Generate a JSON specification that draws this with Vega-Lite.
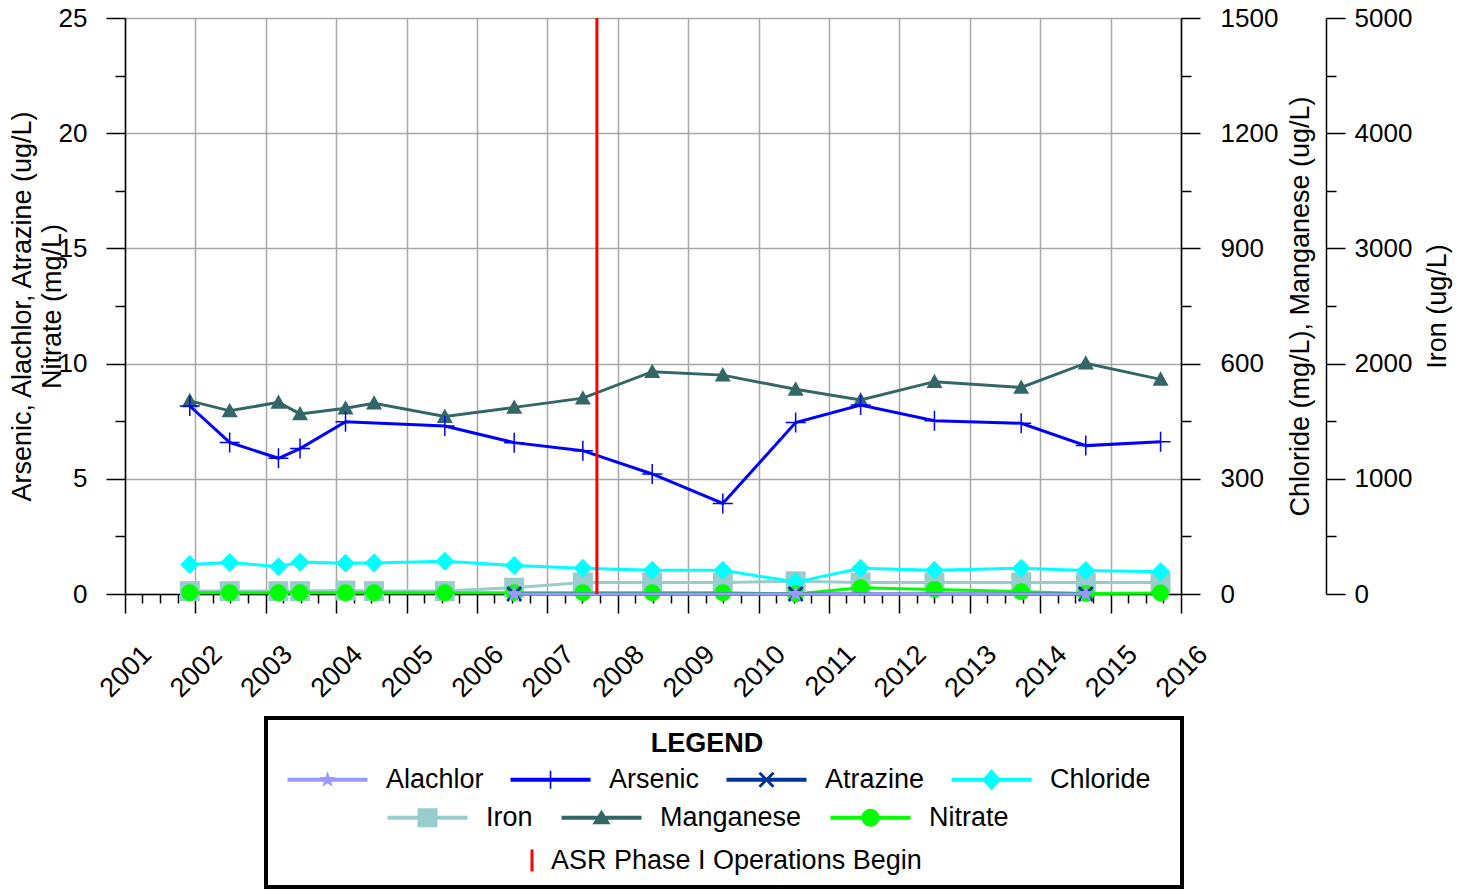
{
  "$schema": "https://vega.github.io/schema/vega-lite/v6.json",
  "width": 1056,
  "height": 576,
  "autosize": {"type": "none"},
  "padding": {"left": 125, "top": 18, "right": 285, "bottom": 295},
  "background": "white",
  "config": {
    "font": "Liberation Sans",
    "view": {"stroke": null},
    "axis": {
      "labelFont": "Liberation Sans", "labelFontSize": 26, "labelColor": "#000",
      "titleFont": "Liberation Sans", "titleFontSize": 27, "titleFontWeight": "normal", "titleColor": "#000",
      "domainColor": "#000", "domainWidth": 1.5, "tickColor": "#000", "tickWidth": 1.5,
      "gridColor": "#a8a8a8", "gridWidth": 1.5,
      "labelFlush": false, "labelOverlap": false, "labelBound": false
    },
    "legend": {
      "labelFont": "Liberation Sans", "labelFontSize": 27, "labelColor": "#000", "labelLimit": 600,
      "titleFont": "Liberation Sans", "titleColor": "#000"
    }
  },
  "datasets": {
    "wq": [
      {"date": "2001-12-03", "series": "Arsenic", "value": 8.16},
      {"date": "2002-06-28", "series": "Arsenic", "value": 6.58},
      {"date": "2003-03-08", "series": "Arsenic", "value": 5.89},
      {"date": "2003-06-28", "series": "Arsenic", "value": 6.31},
      {"date": "2004-02-19", "series": "Arsenic", "value": 7.48},
      {"date": "2005-07-18", "series": "Arsenic", "value": 7.29},
      {"date": "2006-07-13", "series": "Arsenic", "value": 6.57},
      {"date": "2007-07-04", "series": "Arsenic", "value": 6.22},
      {"date": "2008-06-28", "series": "Arsenic", "value": 5.21},
      {"date": "2009-06-29", "series": "Arsenic", "value": 3.93},
      {"date": "2010-07-12", "series": "Arsenic", "value": 7.44},
      {"date": "2011-06-14", "series": "Arsenic", "value": 8.2},
      {"date": "2012-07-01", "series": "Arsenic", "value": 7.52},
      {"date": "2013-09-24", "series": "Arsenic", "value": 7.41},
      {"date": "2014-08-25", "series": "Arsenic", "value": 6.44},
      {"date": "2015-09-17", "series": "Arsenic", "value": 6.61},

      {"date": "2001-12-03", "series": "Manganese", "value": 503},
      {"date": "2002-06-28", "series": "Manganese", "value": 477},
      {"date": "2003-03-08", "series": "Manganese", "value": 499},
      {"date": "2003-06-28", "series": "Manganese", "value": 469},
      {"date": "2004-02-19", "series": "Manganese", "value": 484},
      {"date": "2004-07-16", "series": "Manganese", "value": 497},
      {"date": "2005-07-18", "series": "Manganese", "value": 462},
      {"date": "2006-07-13", "series": "Manganese", "value": 486},
      {"date": "2007-07-04", "series": "Manganese", "value": 510},
      {"date": "2008-06-28", "series": "Manganese", "value": 579},
      {"date": "2009-06-29", "series": "Manganese", "value": 570},
      {"date": "2010-07-12", "series": "Manganese", "value": 533},
      {"date": "2011-06-14", "series": "Manganese", "value": 505},
      {"date": "2012-07-01", "series": "Manganese", "value": 553},
      {"date": "2013-09-24", "series": "Manganese", "value": 538},
      {"date": "2014-08-25", "series": "Manganese", "value": 601},
      {"date": "2015-09-17", "series": "Manganese", "value": 559},

      {"date": "2001-12-03", "series": "Chloride", "value": 77},
      {"date": "2002-06-28", "series": "Chloride", "value": 82},
      {"date": "2003-03-08", "series": "Chloride", "value": 71},
      {"date": "2003-06-28", "series": "Chloride", "value": 83},
      {"date": "2004-02-19", "series": "Chloride", "value": 80},
      {"date": "2004-07-16", "series": "Chloride", "value": 81},
      {"date": "2005-07-18", "series": "Chloride", "value": 85},
      {"date": "2006-07-13", "series": "Chloride", "value": 74},
      {"date": "2007-07-04", "series": "Chloride", "value": 67},
      {"date": "2008-06-28", "series": "Chloride", "value": 62},
      {"date": "2009-06-29", "series": "Chloride", "value": 62},
      {"date": "2010-07-12", "series": "Chloride", "value": 31},
      {"date": "2011-06-14", "series": "Chloride", "value": 67},
      {"date": "2012-07-01", "series": "Chloride", "value": 62},
      {"date": "2013-09-24", "series": "Chloride", "value": 67},
      {"date": "2014-08-25", "series": "Chloride", "value": 61},
      {"date": "2015-09-17", "series": "Chloride", "value": 58},

      {"date": "2001-12-03", "series": "Iron", "value": 25},
      {"date": "2002-06-28", "series": "Iron", "value": 25},
      {"date": "2003-03-08", "series": "Iron", "value": 25},
      {"date": "2003-06-28", "series": "Iron", "value": 25},
      {"date": "2004-02-19", "series": "Iron", "value": 30},
      {"date": "2004-07-16", "series": "Iron", "value": 25},
      {"date": "2005-07-18", "series": "Iron", "value": 25},
      {"date": "2006-07-13", "series": "Iron", "value": 55},
      {"date": "2007-07-04", "series": "Iron", "value": 100},
      {"date": "2008-06-28", "series": "Iron", "value": 100},
      {"date": "2009-06-29", "series": "Iron", "value": 100},
      {"date": "2010-07-12", "series": "Iron", "value": 110},
      {"date": "2011-06-14", "series": "Iron", "value": 100},
      {"date": "2012-07-01", "series": "Iron", "value": 100},
      {"date": "2013-09-24", "series": "Iron", "value": 100},
      {"date": "2014-08-25", "series": "Iron", "value": 100},
      {"date": "2015-09-17", "series": "Iron", "value": 100},

      {"date": "2001-12-03", "series": "Nitrate", "value": 0.05},
      {"date": "2002-06-28", "series": "Nitrate", "value": 0.05},
      {"date": "2003-03-08", "series": "Nitrate", "value": 0.05},
      {"date": "2003-06-28", "series": "Nitrate", "value": 0.05},
      {"date": "2004-02-19", "series": "Nitrate", "value": 0.05},
      {"date": "2004-07-16", "series": "Nitrate", "value": 0.05},
      {"date": "2005-07-18", "series": "Nitrate", "value": 0.05},
      {"date": "2006-07-13", "series": "Nitrate", "value": 0.05},
      {"date": "2007-07-04", "series": "Nitrate", "value": 0.05},
      {"date": "2008-06-28", "series": "Nitrate", "value": 0.05},
      {"date": "2009-06-29", "series": "Nitrate", "value": 0.05},
      {"date": "2010-07-12", "series": "Nitrate", "value": 0.0},
      {"date": "2011-06-14", "series": "Nitrate", "value": 0.27},
      {"date": "2012-07-01", "series": "Nitrate", "value": 0.2},
      {"date": "2013-09-24", "series": "Nitrate", "value": 0.1},
      {"date": "2014-08-25", "series": "Nitrate", "value": 0.02},
      {"date": "2015-09-17", "series": "Nitrate", "value": 0.04},

      {"date": "2006-07-13", "series": "Atrazine", "value": 0},
      {"date": "2010-07-12", "series": "Atrazine", "value": 0},
      {"date": "2014-08-25", "series": "Atrazine", "value": 0},

      {"date": "2006-07-13", "series": "Alachlor", "value": 0},
      {"date": "2010-07-12", "series": "Alachlor", "value": 0},
      {"date": "2014-08-25", "series": "Alachlor", "value": 0}
    ]
  },
  "data": {"name": "wq"},
  "encoding": {
    "x": {
      "field": "date", "type": "temporal",
      "scale": {"type": "utc", "nice": false, "domain": [{"year": 2001, "month": 1, "date": 1, "utc": true}, {"year": 2016, "month": 1, "date": 1, "utc": true}]},
      "axis": {
        "title": null,
        "tickCount": {"interval": "month", "step": 3},
        "labelExpr": "utcmonth(datum.value) === 0 ? utcFormat(datum.value, '%Y') : ''",
        "labelFontSize": 27,
        "labelAngle": -45, "labelAlign": "right", "labelBaseline": "middle",
        "labelPadding": 37, "labelOffset": 22,
        "tickSize": {"condition": {"test": "utcmonth(datum.value) === 0", "value": 19}, "value": 9},
        "grid": true,
        "gridOpacity": {"condition": {"test": "utcmonth(datum.value) === 0", "value": 1}, "value": 0}
      }
    }
  },
  "layer": [
    {
      "transform": [{"filter": "datum.series === 'Iron'"}],
      "encoding": {
        "y": {
          "field": "value", "type": "quantitative",
          "scale": {"domain": [0, 5000], "nice": false},
          "axis": {
            "orient": "right", "offset": 145,
            "values": [0, 500, 1000, 1500, 2000, 2500, 3000, 3500, 4000, 4500, 5000],
            "format": "d",
            "labelExpr": "datum.value % 1000 === 0 ? datum.label : ''",
            "tickSize": {"condition": {"test": "datum.value % 1000 === 0", "value": 19}, "value": 10},
            "labelPadding": 9, "grid": false,
            "title": "Iron (ug/L)", "titleAngle": 270, "titleX": 111, "titleY": 288,
            "titleAlign": "center", "titleBaseline": "middle"
          }
        }
      },
      "layer": [
        {"mark": {"type": "line", "strokeWidth": 3, "color": "#99cccc"}},
        {
          "mark": {"type": "point", "shape": "square", "size": 400, "filled": true, "opacity": 1},
          "encoding": {
            "fill": {
              "datum": "Iron", "type": "nominal",
              "scale": {"domain": ["Iron", "Manganese", "Nitrate"], "range": ["#99cccc", "#336666", "#00ff00"]},
              "legend": {
                "orient": "none", "legendX": 289, "legendY": 786, "direction": "horizontal", "columns": 3,
                "title": null, "padding": 0, "symbolSize": 400, "symbolOpacity": 1, "labelOffset": 45, "columnPadding": 28,
                "gridAlign": "each",
                "encode": {
                  "symbols": {
                    "update": {
                      "shape": [
                        {"test": "datum.value === 'Iron'", "value": "M-4,-0.2H4V0.2H-4ZM-1,-0.95H1V0.95H-1Z"},
                        {"test": "datum.value === 'Manganese'", "value": "M-4,-0.2H4V0.2H-4ZM0,-0.8L0.9,0.65H-0.9Z"},
                        {"value": "M-4,-0.2H4V0.2H-4ZM-0.9,0A0.9,0.9,0,1,1,0.9,0A0.9,0.9,0,1,1,-0.9,0Z"}
                      ],
                      "fill": [
                        {"test": "datum.value === 'Iron'", "value": "#99cccc"},
                        {"test": "datum.value === 'Manganese'", "value": "#336666"},
                        {"value": "#00ff00"}
                      ],
                      "stroke": {"value": "transparent"},
                      "strokeWidth": {"value": 0},
                      "opacity": {"value": 1}
                    }
                  }
                }
              }
            }
          }
        }
      ]
    },
    {
      "encoding": {
        "y": {
          "field": "value", "type": "quantitative",
          "scale": {"domain": [0, 1500], "nice": false},
          "axis": {
            "orient": "right",
            "values": [0, 150, 300, 450, 600, 750, 900, 1050, 1200, 1350, 1500],
            "format": "d",
            "labelExpr": "datum.value % 300 === 0 ? datum.label : ''",
            "tickSize": {"condition": {"test": "datum.value % 300 === 0", "value": 19}, "value": 10},
            "labelPadding": 20, "grid": false,
            "title": "Chloride (mg/L), Manganese (ug/L)", "titleAngle": 270, "titleX": 119, "titleY": 288,
            "titleAlign": "center", "titleBaseline": "middle"
          }
        }
      },
      "layer": [
        {
          "transform": [{"filter": "datum.series === 'Chloride'"}],
          "layer": [
            {
              "mark": {"type": "line", "strokeWidth": 3},
              "encoding": {
                "stroke": {
                  "datum": "Chloride", "type": "nominal",
                  "scale": {"domain": ["Alachlor", "Arsenic", "Atrazine", "Chloride"], "range": ["#9999ff", "#0000ff", "#003399", "#00ffff"]},
                  "legend": {
                    "orient": "none", "legendX": 189, "legendY": 748, "direction": "horizontal", "columns": 4,
                    "title": null, "padding": 0, "symbolSize": 400, "labelOffset": 45, "columnPadding": 26,
                    "gridAlign": "each",
                    "encode": {
                      "symbols": {
                        "update": {
                          "shape": [
                            {"test": "datum.value === 'Alachlor'", "value": "M-4,-0.2H4V0.2H-4ZM0,-0.85L0.206,-0.283L0.808,-0.263L0.333,0.108L0.5,0.688L0,0.35L-0.5,0.688L-0.333,0.108L-0.808,-0.263L-0.206,-0.283Z"},
                            {"test": "datum.value === 'Arsenic'", "value": "M-4,-0.2H4V0.2H-4ZM-0.08,-0.9H0.08V0.9H-0.08Z"},
                            {"test": "datum.value === 'Atrazine'", "value": "M-4,-0.2H4V0.2H-4ZM-0.8,-0.6L-0.6,-0.8L0,-0.2L0.6,-0.8L0.8,-0.6L0.2,0L0.8,0.6L0.6,0.8L0,0.2L-0.6,0.8L-0.8,0.6L-0.2,0Z"},
                            {"value": "M-4,-0.2H4V0.2H-4ZM0,-1.05L0.95,0L0,1.05L-0.95,0Z"}
                          ],
                          "fill": [
                            {"test": "datum.value === 'Alachlor'", "value": "#9999ff"},
                            {"test": "datum.value === 'Arsenic'", "value": "#0000ff"},
                            {"test": "datum.value === 'Atrazine'", "value": "#003399"},
                            {"value": "#00ffff"}
                          ],
                          "stroke": {"value": "transparent"},
                          "strokeWidth": {"value": 0},
                          "opacity": {"value": 1}
                        }
                      }
                    }
                  }
                }
              }
            },
            {"mark": {"type": "point", "shape": "M0,-1L1,0L0,1L-1,0Z", "size": 361, "filled": true, "color": "#00ffff", "opacity": 1}}
          ]
        },
        {
          "transform": [{"filter": "datum.series === 'Manganese'"}],
          "layer": [
            {"mark": {"type": "line", "strokeWidth": 3, "color": "#336666"}},
            {
              "mark": {"type": "point", "shape": "M0,-1L1,0.8H-1Z", "size": 256, "filled": true, "opacity": 1},
              "encoding": {"fill": {"datum": "Manganese", "type": "nominal", "scale": {"domain": ["Iron", "Manganese", "Nitrate"], "range": ["#99cccc", "#336666", "#00ff00"]}}}
            }
          ]
        }
      ]
    },
    {
      "encoding": {
        "y": {
          "field": "value", "type": "quantitative",
          "scale": {"domain": [0, 25], "nice": false},
          "axis": {
            "orient": "left",
            "values": [0, 2.5, 5, 7.5, 10, 12.5, 15, 17.5, 20, 22.5, 25],
            "format": "d",
            "labelExpr": "datum.value % 5 === 0 ? datum.label : ''",
            "tickSize": {"condition": {"test": "datum.value % 5 === 0", "value": 19}, "value": 10},
            "labelPadding": 19,
            "grid": true,
            "gridOpacity": {"condition": {"test": "datum.value % 5 === 0", "value": 1}, "value": 0},
            "title": ["Arsenic, Alachlor, Atrazine (ug/L)", "Nitrate (mg/L)"],
            "titleAngle": 270, "titleX": -103, "titleY": 288,
            "titleAlign": "center", "titleBaseline": "middle", "titleLineHeight": 30
          }
        }
      },
      "layer": [
        {
          "transform": [{"filter": "datum.series === 'Nitrate'"}],
          "layer": [
            {"mark": {"type": "line", "strokeWidth": 3, "color": "#00ff00"}},
            {
              "mark": {"type": "point", "shape": "circle", "size": 290, "filled": true, "opacity": 1},
              "encoding": {"fill": {"datum": "Nitrate", "type": "nominal", "scale": {"domain": ["Iron", "Manganese", "Nitrate"], "range": ["#99cccc", "#336666", "#00ff00"]}}}
            }
          ]
        },
        {
          "transform": [{"filter": "datum.series === 'Arsenic'"}],
          "layer": [
            {
              "mark": {"type": "line", "strokeWidth": 3},
              "encoding": {"stroke": {"datum": "Arsenic", "type": "nominal", "scale": {"domain": ["Alachlor", "Arsenic", "Atrazine", "Chloride"], "range": ["#9999ff", "#0000ff", "#003399", "#00ffff"]}}}
            },
            {"mark": {"type": "point", "shape": "M-1,0H1M0,-1V1", "size": 400, "filled": false, "color": "#0000ff", "strokeWidth": 1.5, "opacity": 1}}
          ]
        },
        {
          "transform": [{"filter": "datum.series === 'Atrazine'"}],
          "layer": [
            {
              "mark": {"type": "line", "strokeWidth": 3},
              "encoding": {"stroke": {"datum": "Atrazine", "type": "nominal", "scale": {"domain": ["Alachlor", "Arsenic", "Atrazine", "Chloride"], "range": ["#9999ff", "#0000ff", "#003399", "#00ffff"]}}}
            },
            {"mark": {"type": "point", "shape": "M-1,-1L1,1M-1,1L1,-1", "size": 196, "filled": false, "color": "#003399", "strokeWidth": 3, "opacity": 1}}
          ]
        },
        {
          "transform": [{"filter": "datum.series === 'Alachlor'"}],
          "layer": [
            {
              "mark": {"type": "line", "strokeWidth": 3},
              "encoding": {"stroke": {"datum": "Alachlor", "type": "nominal", "scale": {"domain": ["Alachlor", "Arsenic", "Atrazine", "Chloride"], "range": ["#9999ff", "#0000ff", "#003399", "#00ffff"]}}}
            },
            {"mark": {"type": "point", "shape": "M0,-1L0.235,-0.324L0.951,-0.309L0.38,0.124L0.588,0.809L0,0.4L-0.588,0.809L-0.38,0.124L-0.951,-0.309L-0.235,-0.324Z", "size": 324, "filled": true, "color": "#9999ff", "opacity": 1}}
          ]
        }
      ]
    },
    {
      "data": {"values": [{"date": "2007-09-15", "event": "ASR Phase I Operations Begin"}]},
      "mark": {"type": "rule", "strokeWidth": 3},
      "encoding": {
        "color": {
          "datum": "ASR Phase I Operations Begin", "type": "nominal",
          "scale": {"domain": ["ASR Phase I Operations Begin"], "range": ["#ff0000"]},
          "legend": {
            "orient": "none", "legendX": 141, "legendY": 700,
            "title": "LEGEND", "titleFontSize": 27, "titleFontWeight": "bold", "titleAnchor": "middle",
            "titlePadding": 89, "padding": 13, "strokeColor": "#000",
            "symbolSize": 400, "labelOffset": 245,
            "encode": {
              "symbols": {
                "update": {
                  "shape": {"value": "M-1,0M23.8,-1.1H24.1V1.1H23.8ZM87.6,1.2"},
                  "fill": {"value": "#ff0000"},
                  "stroke": {"value": "transparent"},
                  "strokeWidth": {"value": 0},
                  "opacity": {"value": 1}
                }
              },
              "legend": {"update": {"strokeWidth": {"value": 4}, "stroke": {"value": "#000"}}},
              "title": {"update": {"dx": {"value": -17}}}
            }
          }
        }
      }
    }
  ],
  "resolve": {"scale": {"y": "independent"}}
}
